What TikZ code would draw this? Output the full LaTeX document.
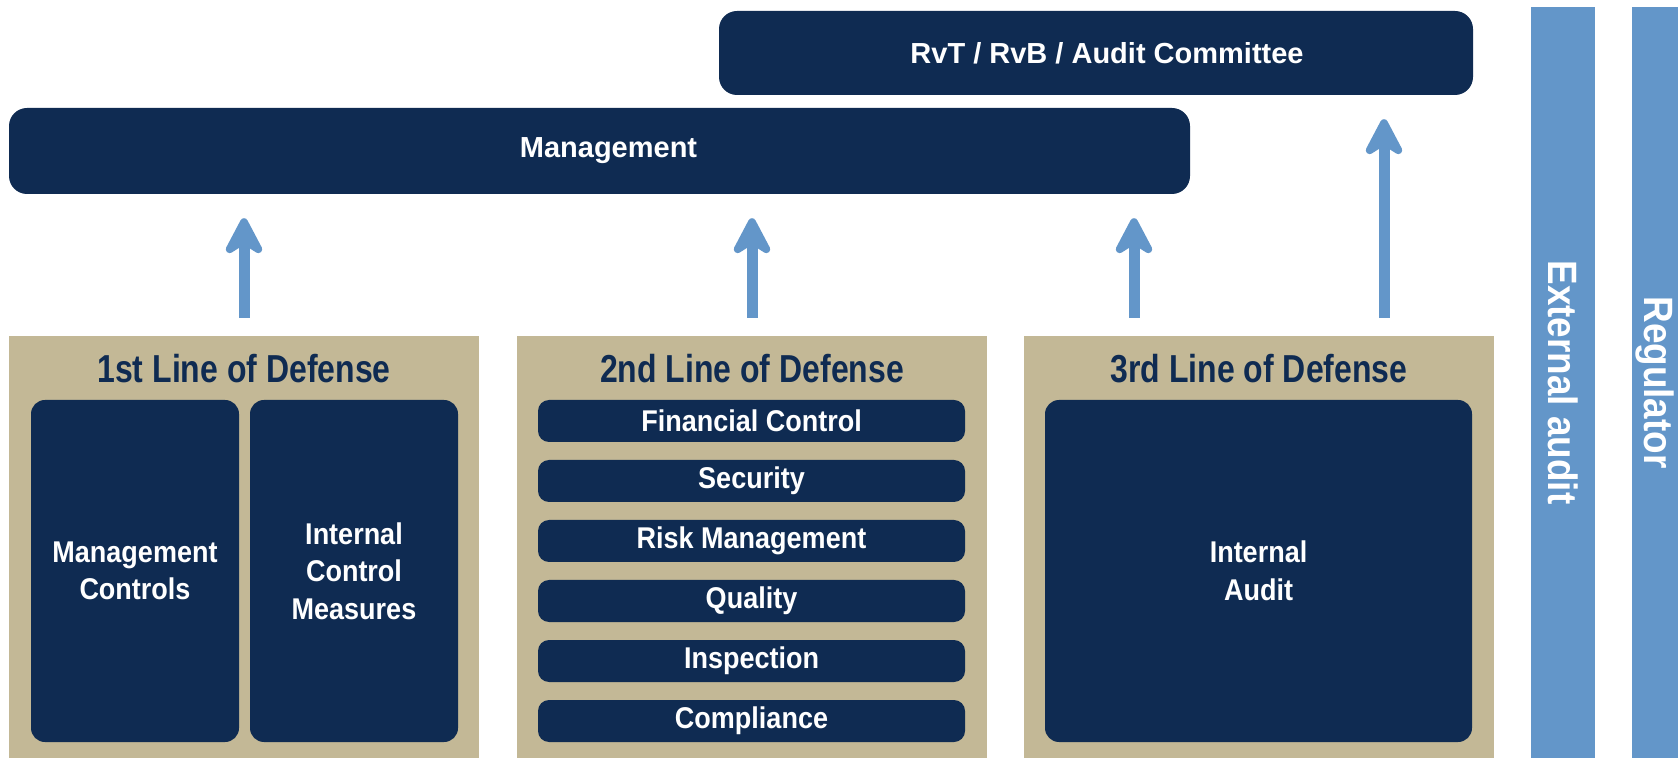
\documentclass[tikz,border=0pt]{standalone}
\usepackage{fontspec}
\setmainfont{Liberation Sans}
\newfontfamily\narrowfont[FakeStretch=0.9]{Liberation Sans}
\newfontfamily\headfont[FakeStretch=0.82]{Liberation Sans}
\usetikzlibrary{arrows.meta,positioning}

\definecolor{navy}{HTML}{0F2B52}
\definecolor{sand}{HTML}{C3B896}
\definecolor{skyblue}{HTML}{6396C9}

\tikzset{
	board/.style = {fill=navy, rounded corners=18pt, text=white, inner sep=0pt,
		font=\bfseries\fontsize{29}{35}\selectfont},
	defense/.style = {fill=sand, inner sep=0pt, minimum width=470pt, minimum height=422pt},
	defhead/.style = {text=navy, anchor=base, inner sep=0pt,
		font=\headfont\bfseries\fontsize{39}{45}\selectfont},
	unit/.style = {fill=navy, rounded corners=14pt, text=white, align=center, inner sep=0pt,
		font=\narrowfont\bfseries\fontsize{30}{37.5}\selectfont},
	outside/.style = {fill=skyblue, text=white, rotate=-90, inner sep=0pt,
		minimum width=751pt, font=\narrowfont\bfseries\fontsize{41}{45}\selectfont},
	uparrow/.style = {draw=skyblue, line width=11pt, shorten <=18pt, shorten >=24pt,
		-{Stealth[length=46pt, width=48pt, inset=15pt, round]}}
}

\begin{document}
\begin{tikzpicture}[x=1pt, y=1pt]
	\useasboundingbox (0,0) rectangle (1678,758);
	%boards
	\node[board, minimum width=754pt, minimum height=84pt] (rvt) at (1096,705) {\hspace*{22pt}RvT / RvB / Audit Committee};
	\node[board, minimum width=1181pt, minimum height=86pt] (mgmt) at (599.5,607) {\hspace*{18pt}Management};
	%lines of defense
	\node[defense] (lod1) at (244,211) {};
	\node[defense] (lod2) at (752,211) {};
	\node[defense] (lod3) at (1259,211) {};
	\node[defhead] (head1) at ([yshift=-47pt]lod1.north) {1st Line of Defense};
	\node[defhead] (head2) at ([yshift=-47pt]lod2.north) {2nd Line of Defense};
	\node[defhead] (head3) at ([yshift=-47pt]lod3.north) {3rd Line of Defense};
	\node[unit, minimum width=208pt, minimum height=342pt] (mc) at (135,187) {Management\\Controls};
	\node[unit, minimum width=208pt, minimum height=342pt] (icm) at (354,187) {Internal\\Control\\Measures};
	\foreach \name [count=\i from 0] in {Financial Control, Security, Risk Management, Quality, Inspection, Compliance}
		\node[unit, rounded corners=11pt, minimum width=427pt, minimum height=42pt] (fn\i) at (751.5,337-60*\i) {\name};
	\node[unit, minimum width=427pt, minimum height=342pt] (ia) at (1258.5,187) {Internal\\Audit};
	%outside parties
	\node[outside, minimum height=64pt] (ext) at (1563,375.5) {External audit};
	\node[outside, minimum height=46pt] (reg) at (1655,375.5) {Regulator};
	%reporting
	\draw[uparrow] (lod1.north) -- (lod1.north |- mgmt.south);
	\draw[uparrow] (lod2.north) -- (lod2.north |- mgmt.south);
	\draw[uparrow] ([xshift=-125pt]lod3.north) -- ([xshift=-125pt]lod3.north |- mgmt.south);
	\draw[uparrow] ([xshift=125pt]lod3.north) -- ([xshift=125pt]lod3.north |- rvt.south);
\end{tikzpicture}
\end{document}
